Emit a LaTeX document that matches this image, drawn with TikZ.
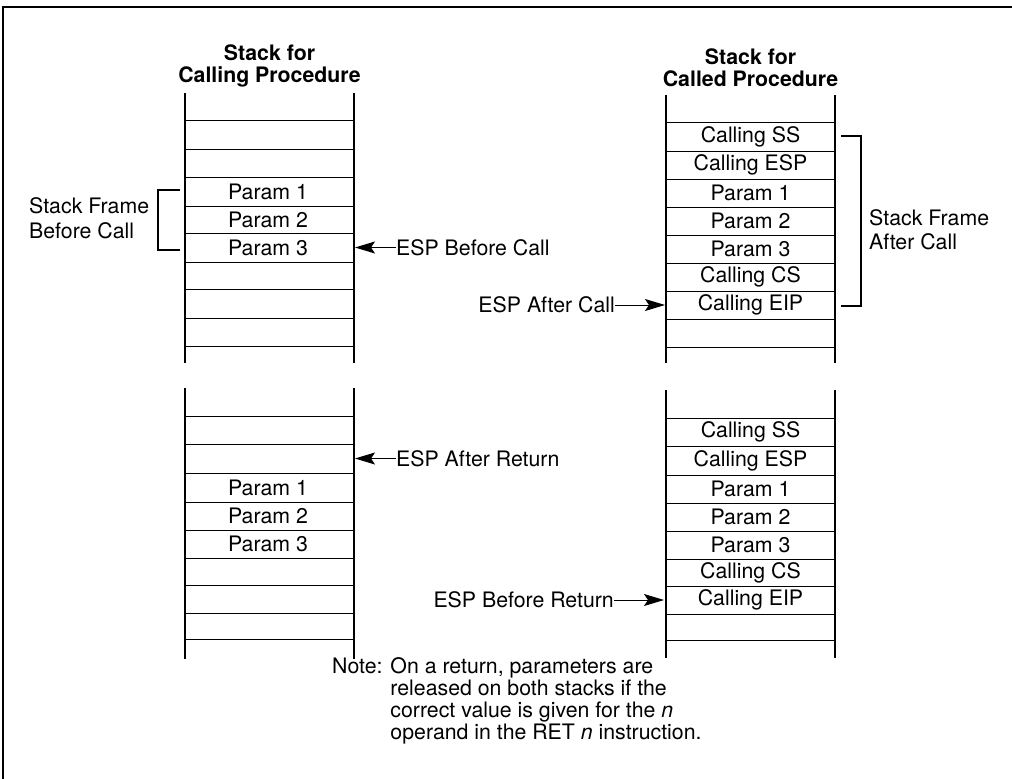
\documentclass[tikz,border=0pt]{standalone}
\usepackage{fontspec}
\setmainfont{TeX Gyre Heros}
\usetikzlibrary{arrows.meta}
\begin{document}
\begin{tikzpicture}[x=1pt,y=-1pt,
  every node/.style={font=\fontsize{21.3}{21.3}\selectfont, inner sep=0pt},
  celltext/.style={anchor=center},
  title/.style={font=\fontsize{21.3}{22}\selectfont\bfseries, align=center, anchor=center},
  sidetext/.style={font=\fontsize{21.3}{24.5}\selectfont, align=left},
  rowline/.style={line width=1pt},
  sideline/.style={line width=1.8pt},
  thinside/.style={line width=1.1pt},
  bracketline/.style={line width=1.8pt},
  esparrow/.style={line width=1pt, -{Stealth[length=20pt,width=12pt,inset=4pt]}},
  frameline/.style={line width=2pt}]
\useasboundingbox (0,0) rectangle (1012,779);
% frame
\draw[frameline] (3,779) -- (3,6.5) -- (1012,6.5);

% ---------- titles
\node[title] (t1) at (269.5,66) {Stack for\\Calling Procedure};
\node[title] (t2) at (750.5,68) {Stack for\\Called Procedure};

% ---------- top left stack
\draw[sideline] (185,93) -- (185,363);
\draw[thinside] (354,93) -- (354,363);
\foreach \yy in {120,149,177,206,233,262,289,318,346}
  \draw[rowline] (185,\yy) -- (354,\yy);
\node[celltext] (tl1) at (268,191.5) {Param 1};
\node[celltext] (tl2) at (268,219.5) {Param 2};
\node[celltext] (tl3) at (268,247.5) {Param 3};

% bracket before call
\draw[bracketline] (180,190) -- (158,190) -- (158,250) -- (180,250);
\node[sidetext, anchor=west] (sfb) at (29,218) {Stack Frame\\Before Call};

% ESP before call
\coordinate (espbc) at (355,247.5);
\node[anchor=west] (lbc) at (396,247.5) {ESP Before Call};
\draw[esparrow] (lbc.west) -- (espbc);

% ---------- top right stack
\draw[sideline] (666,95) -- (666,363);
\draw[sideline] (835,95) -- (835,363);
\foreach \yy in {122,151,179,207,235,263,291,319,347}
  \draw[rowline] (666,\yy) -- (835,\yy);
\node[celltext] (tr1) at (750.5,136.5) {Calling SS};
\node[celltext] (tr2) at (750.5,165) {Calling ESP};
\node[celltext] (tr3) at (750.5,193) {Param 1};
\node[celltext] (tr4) at (750.5,221) {Param 2};
\node[celltext] (tr5) at (750.5,249) {Param 3};
\node[celltext] (tr6) at (750.5,277) {Calling CS};
\node[celltext] (tr7) at (750.5,305) {Calling EIP};

% bracket after call
\draw[bracketline] (841,136) -- (861,136) -- (861,306) -- (841,306);
\node[sidetext, anchor=west] (sfa) at (869,229.5) {Stack Frame\\After Call};

% ESP after call
\coordinate (espac) at (665,305);
\node[anchor=east] (lac) at (615,305) {ESP After Call};
\draw[esparrow] (lac.east) -- (espac);

% ---------- bottom left stack
\draw[sideline] (185,388) -- (185,659);
\draw[thinside] (354,388) -- (354,659);
\foreach \yy in {416,444,473,502,530,558,585,613,639}
  \draw[rowline] (185,\yy) -- (354,\yy);
\node[celltext] (bl1) at (268,487.5) {Param 1};
\node[celltext] (bl2) at (268,516) {Param 2};
\node[celltext] (bl3) at (268,544) {Param 3};

% ESP after return
\coordinate (espar) at (355,458.5);
\node[anchor=west] (lar) at (396,458.5) {ESP After Return};
\draw[esparrow] (lar.west) -- (espar);

% ---------- bottom right stack
\draw[sideline] (666,390) -- (666,658);
\draw[sideline] (835,390) -- (835,658);
\foreach \yy in {418,446,475,503,531,559,586,614,640}
  \draw[rowline] (666,\yy) -- (835,\yy);
\node[celltext] (br1) at (750.5,432) {Calling SS};
\node[celltext] (br2) at (750.5,460.5) {Calling ESP};
\node[celltext] (br3) at (750.5,489) {Param 1};
\node[celltext] (br4) at (750.5,517) {Param 2};
\node[celltext] (br5) at (750.5,545) {Param 3};
\node[celltext] (br6) at (750.5,572.5) {Calling CS};
\node[celltext] (br7) at (750.5,600) {Calling EIP};

% ESP before return
\coordinate (espbr) at (664,600);
\node[anchor=east] (lbr) at (614,600) {ESP Before Return};
\draw[esparrow] (lbr.east) -- (espbr);

% ---------- note
\node[anchor=base west, font=\fontsize{21.3}{21.3}\selectfont] (note) at (332,673.5) {\begin{tabular}[t]{@{}l@{ }l@{}}
Note: & On a return, parameters are\\
 & released on both stacks if the\\
 & correct value is given for the \textit{n}\\
 & operand in the RET \textit{n} instruction.
\end{tabular}};
\end{tikzpicture}
\end{document}
